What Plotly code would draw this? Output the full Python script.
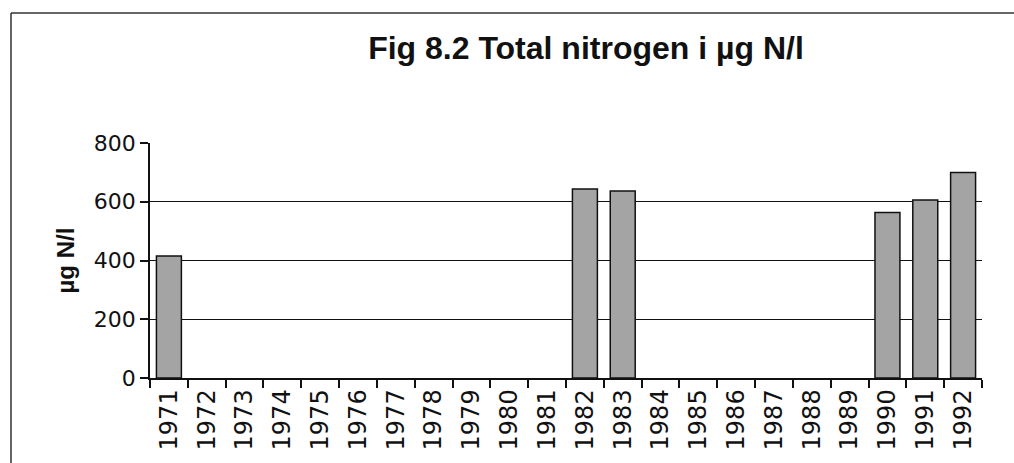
import plotly.graph_objects as go

years = [str(y) for y in range(1971, 1993)]
nitrogen = [415, None, None, None, None, None, None, None, None, None, None,
            643, 637, None, None, None, None, None, None, 563, 606, 700]
y_ticks = [0, 200, 400, 600, 800]

_FONT = "Liberation Sans, Arial, sans-serif"
_TICKFONT = "DejaVu Sans, sans-serif"
_INK = "#111111"

fig = go.Figure(go.Bar(
    x=years, y=nitrogen,
    marker=dict(color="#a4a4a4", line=dict(color=_INK, width=1.5)),
    width=0.66,
))

# outer frame: only the left and top edges fall inside the picture
_frame = dict(type="line", xref="paper", yref="paper",
              line=dict(color="#333333", width=1.5), layer="below")
_fx = -139 / 832          # left frame edge, in plot widths
_fy = 1 + 130 / 235       # top frame edge, in plot heights

fig.update_layout(
    width=1014, height=463,
    paper_bgcolor="white", plot_bgcolor="white",
    margin=dict(l=150, r=32, t=143, b=85),
    showlegend=False,
    font=dict(family=_FONT, color=_INK),
    title=dict(text="<b>Fig 8.2 Total nitrogen i µg N/l</b>",
               x=0.524, xref="paper", xanchor="center",
               y=1 - 48 / 463, yref="container", yanchor="middle",
               font=dict(size=32, family=_FONT, color=_INK)),
    xaxis=dict(type="category", tickangle=-90, showgrid=False,
               automargin=False,
               showline=True, linecolor=_INK, linewidth=1.5,
               ticks="outside", tickson="boundaries", ticklen=8,
               tickcolor=_INK, tickwidth=1.5,
               tickfont=dict(size=24, family=_TICKFONT)),
    yaxis=dict(range=[0, 800], tickvals=y_ticks, showgrid=True,
               automargin=False,
               gridcolor=_INK, gridwidth=1, zeroline=False,
               showline=True, linecolor=_INK, linewidth=1.5,
               ticks="outside", ticklen=8, tickcolor=_INK, tickwidth=1.5,
               tickfont=dict(size=22, family=_TICKFONT)),
    annotations=[dict(text="<b>µg N/l</b>", textangle=-90,
                      xref="paper", yref="paper", x=0, y=0.5,
                      xshift=-85, xanchor="center", yanchor="middle",
                      showarrow=False,
                      font=dict(size=24, family=_FONT, color=_INK))],
    shapes=[dict(_frame, x0=_fx, x1=_fx, y0=-0.5, y1=_fy),
            dict(_frame, x0=_fx, x1=1.04, y0=_fy, y1=_fy)],
)

# page body has a default margin and may scroll; pin the figure at 0,0
fig.write_html("out.html", config={"displayModeBar": False},
               post_script="document.body.style.margin='0';"
                           "document.body.style.overflow='hidden';"
                           "document.documentElement.style.overflow='hidden';")
